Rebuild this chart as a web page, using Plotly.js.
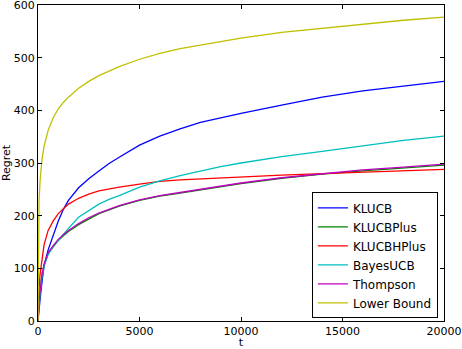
<!DOCTYPE html>
<html>
<head>
<meta charset="utf-8">
<script src="https://cdn.plot.ly/plotly-3.0.1.min.js"></script>
<style>
  html, body { margin: 0; padding: 0; background: #fff; }
  #chart { width: 462px; height: 349px; }
</style>
</head>
<body>
<div id="chart"></div>
<script>
const tSteps = [0, 20, 50, 100, 200, 300, 500, 750, 1000, 1250, 1500, 2000, 2500,
                3000, 3500, 4000, 5000, 6000, 7000, 8000, 9000, 10000, 12000,
                14000, 16000, 18000, 20000];

// Cumulative regret per algorithm
const klucb      = [0, 12, 25, 40, 75, 105, 135, 163, 190, 212, 229, 253, 270,
                    285, 299, 311, 334, 351, 365, 377, 386, 394, 410, 425, 437, 446, 455];
const klucbPlus  = [0, 22, 36, 54, 88, 106, 128, 141, 153, 162, 170, 183, 194,
                    204, 211, 218, 229, 237, 243, 249, 255, 261, 271, 279, 285, 290, 296];
const klucbHPlus = [0, 35, 60, 88, 122, 145, 172, 190, 204, 214, 222, 233, 241,
                    247, 251, 254, 260, 265, 268, 270, 272, 273, 277, 280, 283, 285, 288];
const bayesUcb   = [0, 18, 32, 50, 84, 104, 126, 142, 154, 166, 176, 197, 210,
                    222, 231, 238, 254, 266, 276, 285, 293, 300, 312, 322, 333, 343, 351];
const thompson   = [0, 22, 37, 55, 90, 108, 130, 143, 155, 164, 172, 185, 196,
                    205, 212, 219, 230, 238, 244, 250, 256, 262, 272, 280, 287, 292, 298];
const lowerBound = [0, 175, 225, 265, 308, 332, 362, 386, 403, 415, 425, 442, 455,
                    466, 475, 483, 497, 508, 517, 524, 531, 537, 548, 556, 564, 571, 577];

const seriesNames = ['KLUCB', 'KLUCBPlus', 'KLUCBHPlus', 'BayesUCB', 'Thompson', 'Lower Bound'];
const seriesValues = [klucb, klucbPlus, klucbHPlus, bayesUcb, thompson, lowerBound];
const seriesColors = ['#0000ff', '#008000', '#ff0000', '#00bfbf', '#bf00bf', '#bfbf00'];

const data = seriesNames.map((name, i) => ({
    x: tSteps,
    y: seriesValues[i],
    name: name,
    mode: 'lines',
    line: {color: seriesColors[i], width: 1.3}
}));

const axisCommon = {
    showgrid: false,
    zeroline: false,
    showline: true,
    linecolor: '#000',
    linewidth: 1,
    mirror: 'allticks',
    ticks: 'inside',
    ticklen: 4,
    tickcolor: '#000',
    ticklabeloverflow: 'allow',
    tickfont: {size: 11, color: '#000'}
};

const layout = {
    width: 462,
    height: 349,
    font: {family: 'DejaVu Sans, sans-serif', size: 11, color: '#000'},
    paper_bgcolor: '#fff',
    plot_bgcolor: '#fff',
    margin: {l: 37.5, r: 18, t: 5, b: 28},
    xaxis: Object.assign({}, axisCommon, {
        range: [0, 20000],
        tickvals: [0, 5000, 10000, 15000, 20000],
        ticktext: ['0', '5000', '10000', '15000', '20000'],
        title: {text: 't', font: {size: 11}, standoff: 3}
    }),
    yaxis: Object.assign({}, axisCommon, {
        range: [0, 600],
        dtick: 100,
        title: {text: 'Regret', font: {size: 11}, standoff: 4}
    }),
    showlegend: true,
    legend: {
        x: 0.985, y: 0.008,
        xanchor: 'right', yanchor: 'bottom',
        bgcolor: '#fff',
        bordercolor: '#000',
        borderwidth: 1,
        font: {size: 12, color: '#000'},
        tracegroupgap: 0
    }
};

Plotly.newPlot('chart', data, layout, {displayModeBar: false, staticPlot: true});
</script>
</body>
</html>
